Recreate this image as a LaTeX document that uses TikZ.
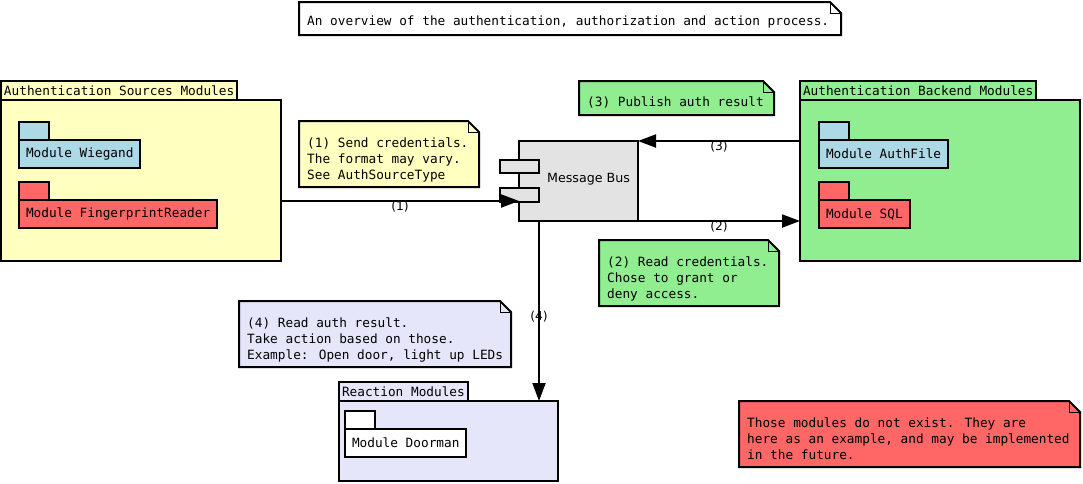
\documentclass[tikz,border=0pt]{standalone}
\usepackage{fontspec}
\newfontfamily\monof{DejaVu Sans Mono}
\newfontfamily\sansf{DejaVu Sans}
\usetikzlibrary{arrows.meta,calc}
\definecolor{cyel}{HTML}{FFFFC0}
\definecolor{cgreen}{HTML}{90EE90}
\definecolor{cblue}{HTML}{ADD8E6}
\definecolor{cred}{HTML}{FF6666}
\definecolor{clav}{HTML}{E6E6FA}
\definecolor{cgray}{HTML}{E3E3E3}
\newcommand\mfont{\monof\fontsize{12.75}{16}\selectfont}
\newcommand\drawnote[2]{%
  \filldraw[fill=#2, line width=2pt, line join=miter] (#1.north west) -- ([xshift=-11pt]#1.north east) -- ([yshift=-11pt]#1.north east) -- (#1.south east) -- (#1.south west) -- cycle;
  \draw[line width=1pt] ([xshift=-11pt]#1.north east) |- ([yshift=-11pt]#1.north east);}
\tikzset{
  box/.style={draw=black, line width=2pt, inner sep=0pt, outer sep=0pt},
  pkgbody/.style={box, anchor=north west},
  pkgtab/.style={box, anchor=south west, inner xsep=3pt, minimum height=19pt, font=\mfont},
  modbody/.style={box, anchor=north west, inner xsep=7pt, minimum height=28pt, font=\mfont},
  modtab/.style={box, anchor=south west, minimum width=30pt, minimum height=18pt},
  notebox/.style={anchor=north west, inner sep=0pt, outer sep=0pt},
  notetxt/.style={anchor=north west, inner sep=0pt, align=left, font=\mfont},
  arr/.style={line width=2pt, -{Triangle[length=18pt,width=13pt]}},
  lbl/.style={font=\sansf\fontsize{12.3}{14}\selectfont, inner sep=0pt},
}
\begin{document}
\begin{tikzpicture}[x=1pt,y=-1pt]
\fill[white] (0,0) rectangle (1083,483);
\useasboundingbox (0,0) rectangle (1083,483);

% title note
\node[notebox, minimum width=542pt, minimum height=33pt] (title) at (299,2) {};
\drawnote{title}{white}
\node[notetxt] (titlet) at ([xshift=8pt,yshift=-14pt]title.north west) {An overview of the authentication, authorization and action process.};

% Authentication sources package
\node[pkgbody, fill=cyel, minimum width=280pt, minimum height=161pt] (src) at (1,100) {};
\node[pkgtab, fill=cyel] (srctab) at (src.north west) {Authentication Sources Modules};
\node[modbody, fill=cblue] (wieg) at (19,140) {Module Wiegand};
\node[modtab, fill=cblue] (wiegtab) at (wieg.north west) {};
\node[modbody, fill=cred] (fing) at (19,200) {Module FingerprintReader};
\node[modtab, fill=cred] (fingtab) at (fing.north west) {};

% Backend package
\node[pkgbody, fill=cgreen, minimum width=280pt, minimum height=161pt] (be) at (800,100) {};
\node[pkgtab, fill=cgreen] (betab) at (be.north west) {Authentication Backend Modules};
\node[modbody, fill=cblue] (afile) at (819,140) {Module AuthFile};
\node[modtab, fill=cblue] (afiletab) at (afile.north west) {};
\node[modbody, fill=cred] (sql) at (819,200) {Module SQL};
\node[modtab, fill=cred] (sqltab) at (sql.north west) {};

% Reaction package
\node[pkgbody, fill=clav, minimum width=219pt, minimum height=80pt] (react) at (339,401) {};
\node[pkgtab, fill=clav] (reacttab) at (react.north west) {Reaction Modules};
\node[modbody, fill=white] (door) at (345,429) {Module Doorman};
\node[modtab, fill=white] (doortab) at (door.north west) {};

% Message bus
\node[box, anchor=north west, fill=cgray, minimum width=119pt, minimum height=80pt] (bus) at (519,141) {};
\node[box, fill=cgray, minimum width=39pt, minimum height=13.5pt] (bust1) at ([yshift=-25.5pt]bus.north west) {};
\node[box, fill=cgray, minimum width=39pt, minimum height=13.5pt] (bust2) at ([yshift=-54pt]bus.north west) {};
\node[font=\sansf\fontsize{12.65}{15}\selectfont, inner sep=0pt] (busl) at ([xshift=10pt,yshift=1.5pt]bus.center) {Message Bus};

% notes
\node[notebox, minimum width=180pt, minimum height=66pt] (n1) at (299,121) {};
\drawnote{n1}{cyel}
\node[notetxt] (n1t) at ([xshift=8pt,yshift=-16.5pt]n1.north west) {(1) Send credentials.\\The format may vary.\\See AuthSourceType};

\node[notebox, minimum width=195pt, minimum height=34pt] (n3) at (579,81) {};
\drawnote{n3}{cgreen}
\node[notetxt] (n3t) at ([xshift=8pt,yshift=-15.5pt]n3.north west) {(3) Publish auth result};

\node[notebox, minimum width=180pt, minimum height=66pt] (n2) at (599,240) {};
\drawnote{n2}{cgreen}
\node[notetxt] (n2t) at ([xshift=8pt,yshift=-16.5pt]n2.north west) {(2) Read credentials.\\Chose to grant or\\deny access.};

\node[notebox, minimum width=272pt, minimum height=66pt] (n4) at (239,301) {};
\drawnote{n4}{clav}
\node[notetxt] (n4t) at ([xshift=8pt,yshift=-16.5pt]n4.north west) {(4) Read auth result.\\Take action based on those.\\Example: Open door, light up LEDs};

\node[notebox, minimum width=341pt, minimum height=66pt] (nr) at (739,401) {};
\drawnote{nr}{cred}
\node[notetxt] (nrt) at ([xshift=8pt,yshift=-16.5pt]nr.north west) {Those modules do not exist. They are\\here as an example, and may be implemented\\in the future.};

% connectors
\coordinate (b1) at ([yshift=20pt]bus.south west);
\draw[arr] (src.east |- b1) -- node[lbl, midway, yshift=-6pt] {(1)} (b1);
\draw[arr] (bus.south east) -- node[lbl, midway, yshift=-6pt] {(2)} (be.west |- bus.south east);
\draw[arr] (be.west |- bus.north east) -- node[lbl, midway, yshift=-6pt] {(3)} (bus.north east);
\coordinate (b4) at ([xshift=20pt]bus.south west);
\draw[arr] (b4) -- node[lbl, midway, yshift=-6pt] {(4)} (b4 |- react.north);
\end{tikzpicture}
\end{document}
